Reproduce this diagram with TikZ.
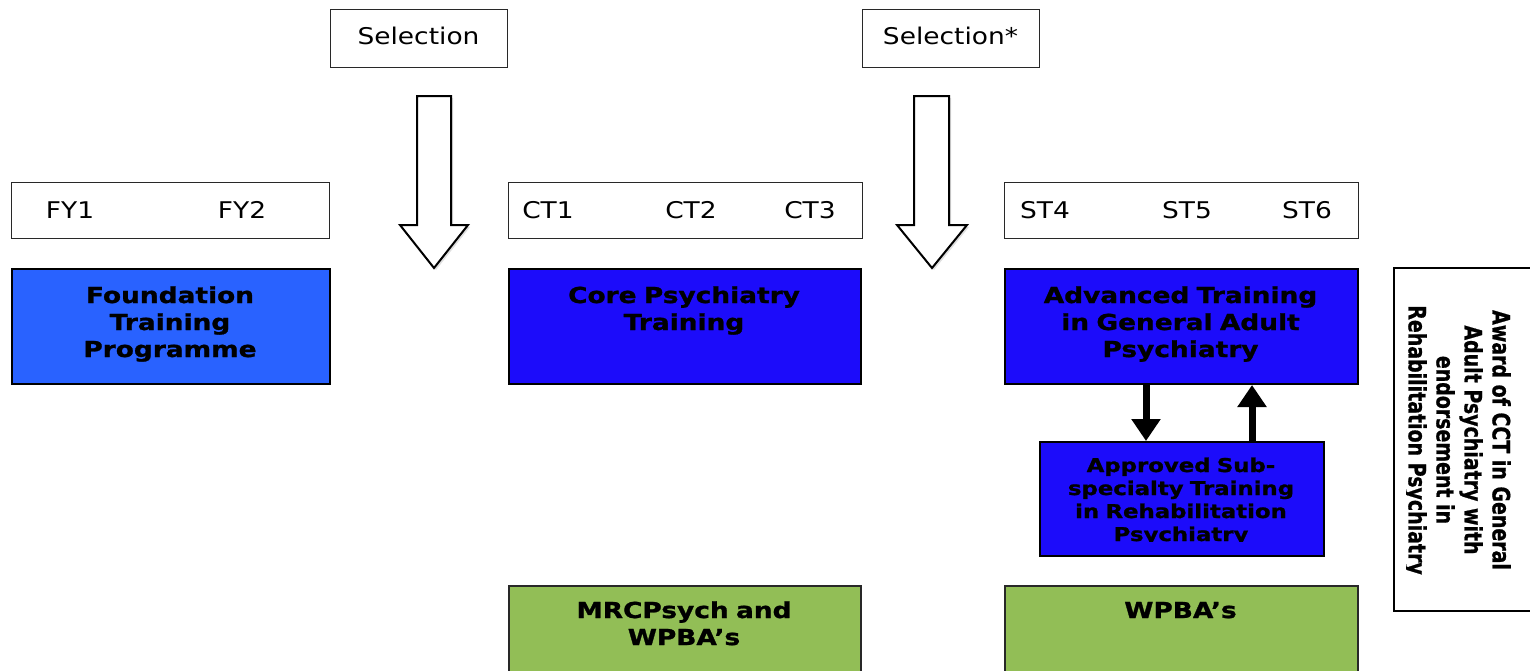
\documentclass[tikz,border=0pt]{standalone}
\usepackage{fontspec}
\setmainfont{DejaVu Sans}
\newfontfamily\wreg{DejaVu Sans}[FakeStretch=1.15]
\newfontfamily\wbold{DejaVu Sans}[FakeStretch=1.2, BoldFeatures={FakeBold=1.2}]
\newfontfamily\nbold{DejaVu Sans}[FakeStretch=0.79, BoldFeatures={FakeBold=0.8}]
\usetikzlibrary{arrows.meta,calc,shadows}
\definecolor{fblue}{RGB}{41,98,255}
\definecolor{cblue}{RGB}{28,12,250}
\definecolor{wgreen}{RGB}{146,190,86}
\definecolor{edgecol}{RGB}{40,40,40}
\begin{document}
\begin{tikzpicture}[x=1pt,y=-1pt,
  plainbox/.style={draw=edgecol, line width=1.3pt, fill=white, anchor=north west, inner sep=0},
  bluebox/.style={draw=black, line width=2pt, anchor=north west, inner sep=0},
  greenbox/.style={draw=edgecol, line width=1.5pt, fill=wgreen, anchor=north west, inner sep=0},
  lbl/.style={font=\wreg\fontsize{23}{27}\selectfont, anchor=base, inner sep=0},
  btext/.style={font=\wbold\bfseries\fontsize{22}{27}\selectfont, align=center, anchor=base, inner sep=0, text width=330pt},
  stext/.style={font=\wbold\bfseries\fontsize{19}{23}\selectfont, align=center, anchor=base, inner sep=0, text width=280pt},
  hollow/.style={draw=black, line width=2pt, fill=white, line join=miter,
    drop shadow={shadow xshift=2pt, shadow yshift=-2pt, opacity=0.25, fill=gray}},
  fat/.style={line width=7pt, -{Triangle[width=28pt,length=22pt]}}
]
\useasboundingbox (0,0) rectangle (1530,670);

% selection boxes
\node[plainbox, minimum width=177pt, minimum height=58pt] (sel1) at (330,9) {};
\node[lbl] (sel1t) at (418.5,44) {Selection};
\node[plainbox, minimum width=177pt, minimum height=58pt] (sel2) at (862,9) {};
\node[lbl] (sel2t) at (950.5,44) {Selection*};

% hollow arrows
\draw[hollow] (417,96) -- (451,96) -- (451,225) -- (468,225) -- (434,268) -- (400,225) -- (417,225) -- cycle;
\draw[hollow] (914,96) -- (949,96) -- (949,225) -- (967,225) -- (932,268) -- (897,225) -- (914,225) -- cycle;

% year boxes
\node[plainbox, minimum width=318pt, minimum height=56pt] (fy) at (11,182) {};
\node[plainbox, minimum width=354pt, minimum height=56pt] (ct) at (508,182) {};
\node[plainbox, minimum width=354pt, minimum height=56pt] (st) at (1004,182) {};
\node[lbl] (fy1) at (70,218) {FY1};
\node[lbl] (fy2) at (242,218) {FY2};
\node[lbl] (ct1) at (548,218) {CT1};
\node[lbl] (ct2) at (691,218) {CT2};
\node[lbl] (ct3) at (810,218) {CT3};
\node[lbl] (st4) at (1045,218) {ST4};
\node[lbl] (st5) at (1187,218) {ST5};
\node[lbl] (st6) at (1307,218) {ST6};

% training boxes
\node[bluebox, fill=fblue, minimum width=318pt, minimum height=115pt] (fnd) at (11,268) {};
\node[btext] (fndt) at (170,303) {Foundation\\Training\\Programme};
\node[bluebox, fill=cblue, minimum width=352pt, minimum height=115pt] (core) at (508,268) {};
\node[btext] (coret) at (684,303) {Core Psychiatry\\Training};
\node[bluebox, fill=cblue, minimum width=353pt, minimum height=115pt] (adv) at (1004,268) {};
\node[btext] (advt) at (1180.5,303) {Advanced Training\\in General Adult\\Psychiatry};

% sub-specialty box
\node[bluebox, fill=cblue, minimum width=284pt, minimum height=114pt] (appr) at (1039,441) {};
\begin{scope}
  \clip (1040,442) rectangle (1322,541.5);
  \node[stext] (apprt) at (1181,472) {Approved Sub-\\specialty Training\\in Rehabilitation\\Psychiatry};
\end{scope}

% black arrows
\coordinate (dx) at (1146,0);
\coordinate (ux) at (1252,0);
\draw[fat] (adv.south -| dx) -- (appr.north -| dx);
\draw[fat] (appr.north -| ux) -- (adv.south -| ux);

% award box
\node[plainbox, line width=2.2pt, draw=black, minimum width=170pt, minimum height=343pt] (award) at (1393,267) {};
\begin{scope}
  \clip (1406,269) rectangle (1530,608);
  \node[rotate=-90, anchor=north, inner sep=0, align=center,
        font=\nbold\bfseries\fontsize{24}{28}\selectfont] (awardt) at (1511,440)
        {Award of CCT in General\\Adult Psychiatry with\\endorsement in\\Rehabilitation Psychiatry};
\end{scope}

% assessment boxes
\node[greenbox, minimum width=352pt, minimum height=120pt] (mrc) at (508,585) {};
\node[btext] (mrct) at (684,618) {MRCPsych and\\WPBA’s};
\node[greenbox, minimum width=353pt, minimum height=120pt] (wpba) at (1004,585) {};
\node[btext] (wpbat) at (1180.5,618) {WPBA’s};
\end{tikzpicture}
\end{document}
